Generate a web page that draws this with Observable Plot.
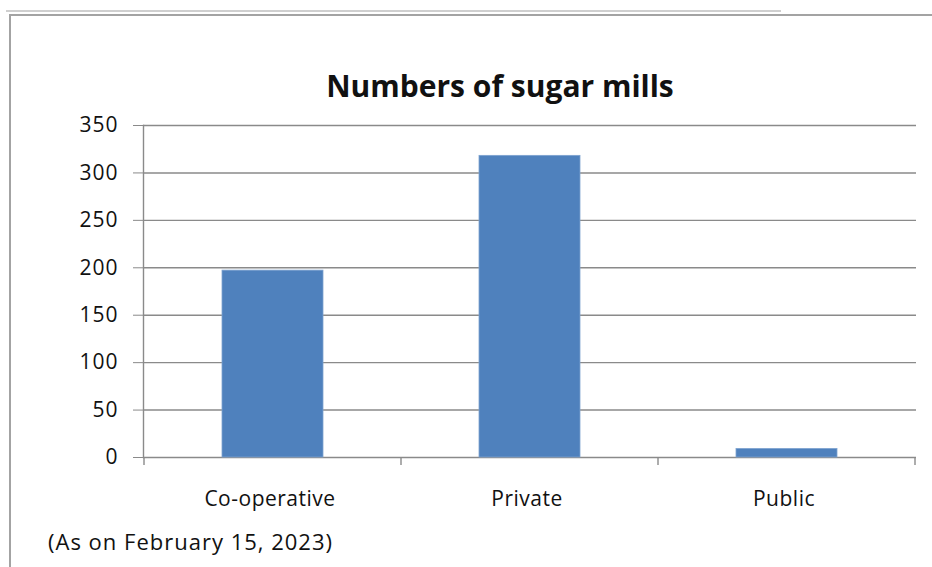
<!DOCTYPE html>
<html>
<head>
<meta charset="utf-8">
<script src="https://cdn.jsdelivr.net/npm/d3@7"></script>
<script src="https://cdn.jsdelivr.net/npm/@observablehq/plot@0.6"></script>
<style>
  html, body { margin: 0; padding: 0; background: #fff; }
  #wrap { position: relative; width: 932px; height: 567px; overflow: hidden; font-family: "Open Sans", Lato, sans-serif; }
  #topline { position: absolute; left: 6px; top: 10px; width: 775px; height: 2px; background: #cfcfcf; }
  #frame { position: absolute; left: 9px; top: 14px; width: 940px; height: 600px; border-top: 2px solid #a3a3a3; border-left: 2px solid #a3a3a3; }
  #title { position: absolute; left: 250px; width: 500px; top: 64px; text-align: center; font-weight: 700; font-size: 30px; line-height: 44px; letter-spacing: 0px; color: #111; white-space: nowrap; }
  #caption { position: absolute; left: 48px; top: 526px; font-size: 22px; line-height: 30px; letter-spacing: 1px; color: #111; white-space: nowrap; }
  #chart { position: absolute; left: 0; top: 0; }
  #chart svg g[aria-label="y-axis tick label"] text { letter-spacing: 1px; }
  #chart svg g[aria-label="x-axis tick label"] text { letter-spacing: 0.5px; }
</style>
</head>
<body>
<div id="wrap">
  <div id="topline"></div>
  <div id="frame"></div>
  <div id="chart"></div>
  <div id="title">Numbers of sugar mills</div>
  <div id="caption">(As on February 15, 2023)</div>
</div>
<script>
const categories = ["Co-operative", "Private", "Public"];
const mills = [197, 318, 9];
const yTicks = [0, 50, 100, 150, 200, 250, 300, 350];

const data = categories.map((c, i) => ({category: c, value: mills[i]}));
const gray = "#8a8a8a";

const chart = Plot.plot({
  width: 932,
  height: 567,
  marginLeft: 143,
  marginRight: 16,
  marginTop: 125,
  marginBottom: 110,
  style: {fontFamily: "'Open Sans', Lato, sans-serif", color: "#111", background: "transparent"},
  x: {domain: categories, paddingInner: 0.608, paddingOuter: 0.304, label: null},
  y: {domain: [0, 350], label: null},
  marks: [
    Plot.gridY(yTicks, {stroke: gray, strokeOpacity: 1, strokeWidth: 1.4}),
    Plot.barY(data, {x: "category", y: "value", fill: "#4f81bd", stroke: "#7ea3d0", strokeWidth: 0.8}),
    Plot.frame({anchor: "left", stroke: gray, strokeWidth: 1.4}),
    Plot.axisY({ticks: yTicks, tickSize: 10, tickPadding: 15, stroke: gray, fontSize: 21, fill: "#111"}),
    Plot.axisX({tickSize: 0, tickPadding: 34, fontSize: 21, fill: "#111", dx: -3})
  ]
});

document.getElementById("chart").appendChild(chart);

// Excel-style category ticks at band boundaries, taken from Plot's own scales
const xs = chart.scale("x");
const ys = chart.scale("y");
const step = xs.step;
const y0 = ys.apply(0);
const svg = d3.select(chart);
const bounds = categories.map(c => xs.apply(c) - (step - xs.bandwidth) / 2);
bounds.push(bounds[bounds.length - 1] + step);
svg.append("g")
  .selectAll("line")
  .data(bounds)
  .join("line")
  .attr("x1", d => d).attr("x2", d => d)
  .attr("y1", y0).attr("y2", y0 + 8)
  .attr("stroke", gray)
  .attr("stroke-width", 1.4);
</script>
</body>
</html>
